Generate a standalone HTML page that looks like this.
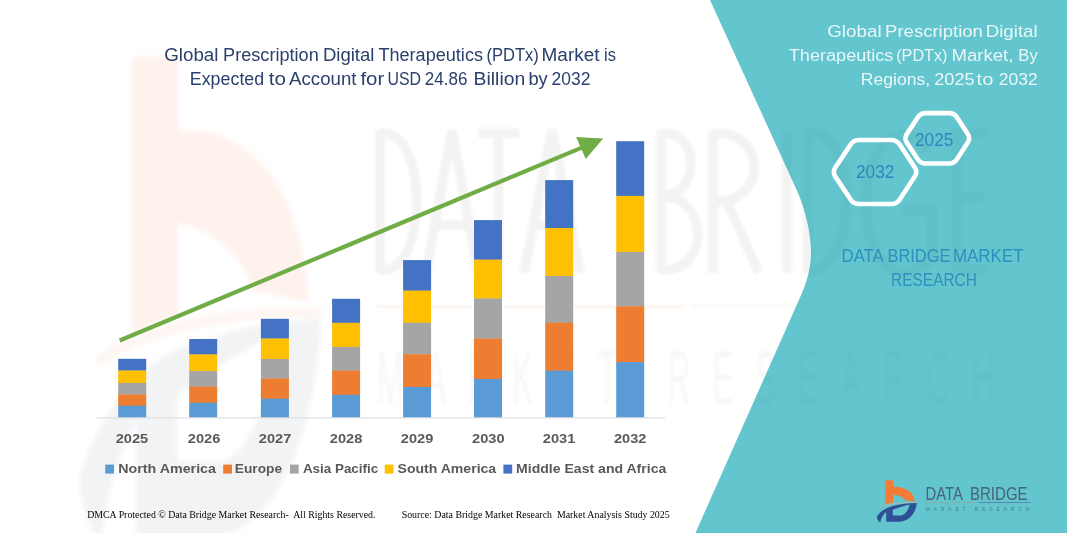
<!DOCTYPE html>
<html>
<head>
<meta charset="utf-8">
<title>Global Prescription Digital Therapeutics (PDTx) Market</title>
<style>
  html, body { margin: 0; padding: 0; background: #ffffff; }
  body { width: 1067px; height: 533px; overflow: hidden; position: relative; font-family: "Liberation Sans", sans-serif; }
  svg { position: absolute; left: 0; top: 0; display: block; opacity: 0.999; }
  text { font-family: "Liberation Sans", sans-serif; }
  .serif { font-family: "Liberation Serif", serif; }
</style>
</head>
<body>
<svg width="1067" height="533" viewBox="0 0 1067 533">
  <defs>
    <filter id="blur2" x="-10%" y="-10%" width="120%" height="120%"><feGaussianBlur stdDeviation="2"/></filter>
    <filter id="blur1" x="-10%" y="-10%" width="120%" height="120%"><feGaussianBlur stdDeviation="1.6"/></filter>
    <clipPath id="tealclip"><path d="M710,0 L798,193 C806,212 811,235 811,252 C811,270 806,285 798,302 L695.4,533 L1067,533 L1067,0 Z"/></clipPath>
  </defs>

  <!-- white background -->
  <rect x="0" y="0" width="1067" height="533" fill="#ffffff"/>

  <!-- faint logo watermark (left) -->
  <g id="wm-logo" filter="url(#blur2)">
    <g transform="translate(-5180.4,-5466.5) scale(6,11.5)">
      <path d="M885.4,480.3 L893.1,480.3 L893.1,486.7 C905,486.3 913.8,491.5 914.8,501.6 L905.5,500.6 C903.9,497.8 899.4,495.3 893.1,494.8 L893.1,502.6 L885.4,504.4 Z" fill="#f47b35" opacity="0.09"/>
      <path d="M879.5,506.8 C889,503.6 903,502.3 916.8,502.6" fill="none" stroke-width="0.9" stroke="#e8a07a" opacity="0.10"/>
      <path fill-rule="evenodd" d="M916.8,503.1 C908.5,503.2 900.4,504.2 892.3,505.9 C885.2,508 879,512.5 876.9,516.6 C876.5,519 878.5,521.5 880.4,522.6 C880.6,518.6 883.2,514.5 886.2,511.7 L886.2,521.8 L900.4,521.8 C909.5,521 916,513 916.8,503.1 Z M892.8,509.7 C900.4,506.9 905,505.4 909.5,504.4 C909.3,508.4 905.5,515 900.4,515.5 L892.8,515.5 Z" fill="#3d4c7c" opacity="0.075"/>
    </g>
  </g>

  <rect x="376" y="305" width="310" height="3" fill="#f0894f" opacity="0.09" filter="url(#blur1)"/>
  <!-- faint DATA BRIDGE watermark (white area) -->
  <g filter="url(#blur1)" opacity="0.048"><g>
      <g fill="none" stroke="#000000" stroke-width="9.5">
    <path d="M380,130 L380,273 M380,133 C429,128 429,275 380,270"/>
    <path d="M426,273 L452.0,130 L478,273 M435,225 L469,225"/>
    <path d="M478,133 L519,133 M498.5,133 L498.5,273"/>
    <path d="M524,273 L552.0,130 L580,273 M533,225 L571,225"/>
    <path d="M661,130 L661,273 M661,133 C701,130 701,196 661,196 C710,196 710,273 661,270"/>
    <path d="M713,130 L713,273 M713,133 C768,130 768,204 713,202 M727,202 L759,273"/>
    <path d="M787,130 L787,273"/>
    <path d="M808,130 L808,273 M808,133 C859,128 859,275 808,270"/>
    <path d="M928,151 C902,115 866,143 866,202 C866,265 899,292 932,258 L932,210 L902,210"/>
    <path d="M957,130 L957,273 M957,133 L987,133 M957,198 L983,198 M957,270 L987,270"/>
      </g>
      <rect x="690" y="304.5" width="320" height="3" fill="#000" opacity="0.7"/>
      <g fill="#000" font-size="75.5" opacity="0.7">
        <text transform="translate(377,404) scale(0.42,1)" x="0" y="0" textLength="1470" lengthAdjust="spacing">MARKET RESEARCH</text>
      </g>
    </g></g>

  <!-- teal panel -->
  <path id="teal" d="M710,0 L798,193 C806,212 811,235 811,252 C811,270 806,285 798,302 L695.4,533 L1067,533 L1067,0 Z" fill="#63c5cd"/>

  <!-- faint watermark over teal -->
  <g clip-path="url(#tealclip)"><g filter="url(#blur2)" opacity="0.028"><g>
      <g fill="none" stroke="#000000" stroke-width="9.5">
    <path d="M380,130 L380,273 M380,133 C429,128 429,275 380,270"/>
    <path d="M426,273 L452.0,130 L478,273 M435,225 L469,225"/>
    <path d="M478,133 L519,133 M498.5,133 L498.5,273"/>
    <path d="M524,273 L552.0,130 L580,273 M533,225 L571,225"/>
    <path d="M661,130 L661,273 M661,133 C701,130 701,196 661,196 C710,196 710,273 661,270"/>
    <path d="M713,130 L713,273 M713,133 C768,130 768,204 713,202 M727,202 L759,273"/>
    <path d="M787,130 L787,273"/>
    <path d="M808,130 L808,273 M808,133 C859,128 859,275 808,270"/>
    <path d="M928,151 C902,115 866,143 866,202 C866,265 899,292 932,258 L932,210 L902,210"/>
    <path d="M957,130 L957,273 M957,133 L987,133 M957,198 L983,198 M957,270 L987,270"/>
      </g>
      <rect x="690" y="304.5" width="320" height="3" fill="#000" opacity="0.7"/>
      <g fill="#000" font-size="75.5" opacity="0.7">
        <text transform="translate(377,404) scale(0.42,1)" x="0" y="0" textLength="1470" lengthAdjust="spacing">MARKET RESEARCH</text>
      </g>
    </g></g></g>

  <!-- x axis line -->
  <rect x="96.2" y="417.4" width="569" height="1" fill="#d9d9d9"/>

  <!-- bars -->
  <g id="bars">
    <rect x="118.2" y="358.8" width="28" height="12.0" fill="#4472c4"/>
    <rect x="118.2" y="370.5" width="28" height="12.7" fill="#ffc000"/>
    <rect x="118.2" y="382.9" width="28" height="11.8" fill="#a5a5a5"/>
    <rect x="118.2" y="394.4" width="28" height="11.6" fill="#ed7d31"/>
    <rect x="118.2" y="405.7" width="28" height="11.6" fill="#5b9bd5"/>
    <rect x="189.2" y="339" width="28" height="15.7" fill="#4472c4"/>
    <rect x="189.2" y="354.4" width="28" height="16.9" fill="#ffc000"/>
    <rect x="189.2" y="371" width="28" height="15.9" fill="#a5a5a5"/>
    <rect x="189.2" y="386.6" width="28" height="16.4" fill="#ed7d31"/>
    <rect x="189.2" y="402.7" width="28" height="14.6" fill="#5b9bd5"/>
    <rect x="260.9" y="318.8" width="28" height="20.0" fill="#4472c4"/>
    <rect x="260.9" y="338.5" width="28" height="20.8" fill="#ffc000"/>
    <rect x="260.9" y="359" width="28" height="19.7" fill="#a5a5a5"/>
    <rect x="260.9" y="378.4" width="28" height="20.6" fill="#ed7d31"/>
    <rect x="260.9" y="398.7" width="28" height="18.6" fill="#5b9bd5"/>
    <rect x="332.1" y="298.8" width="28" height="24.3" fill="#4472c4"/>
    <rect x="332.1" y="322.8" width="28" height="24.4" fill="#ffc000"/>
    <rect x="332.1" y="346.9" width="28" height="24.0" fill="#a5a5a5"/>
    <rect x="332.1" y="370.6" width="28" height="24.5" fill="#ed7d31"/>
    <rect x="332.1" y="394.8" width="28" height="22.5" fill="#5b9bd5"/>
    <rect x="403.1" y="260.1" width="28" height="30.8" fill="#4472c4"/>
    <rect x="403.1" y="290.6" width="28" height="32.4" fill="#ffc000"/>
    <rect x="403.1" y="322.7" width="28" height="31.8" fill="#a5a5a5"/>
    <rect x="403.1" y="354.2" width="28" height="33.0" fill="#ed7d31"/>
    <rect x="403.1" y="386.9" width="28" height="30.4" fill="#5b9bd5"/>
    <rect x="474.0" y="220.1" width="28" height="39.8" fill="#4472c4"/>
    <rect x="474.0" y="259.6" width="28" height="39.2" fill="#ffc000"/>
    <rect x="474.0" y="298.5" width="28" height="40.3" fill="#a5a5a5"/>
    <rect x="474.0" y="338.5" width="28" height="40.8" fill="#ed7d31"/>
    <rect x="474.0" y="379" width="28" height="38.3" fill="#5b9bd5"/>
    <rect x="545.2" y="180.1" width="28" height="48.2" fill="#4472c4"/>
    <rect x="545.2" y="228" width="28" height="48.2" fill="#ffc000"/>
    <rect x="545.2" y="275.9" width="28" height="47.1" fill="#a5a5a5"/>
    <rect x="545.2" y="322.7" width="28" height="48.2" fill="#ed7d31"/>
    <rect x="545.2" y="370.6" width="28" height="46.7" fill="#5b9bd5"/>
    <rect x="616.2" y="141.2" width="28" height="55.0" fill="#4472c4"/>
    <rect x="616.2" y="195.9" width="28" height="56.3" fill="#ffc000"/>
    <rect x="616.2" y="251.9" width="28" height="54.7" fill="#a5a5a5"/>
    <rect x="616.2" y="306.3" width="28" height="56.1" fill="#ed7d31"/>
    <rect x="616.2" y="362.1" width="28" height="55.2" fill="#5b9bd5"/>
  </g>

  <!-- arrow -->
  <g id="arrow">
    <line x1="119.7" y1="340.5" x2="586" y2="145.9" stroke="#70ad47" stroke-width="4.2"/>
    <polygon points="603.1,138.6 576.1,136.9 585.8,159" fill="#70ad47"/>
  </g>

  <!-- title -->
  <g fill="#2b406c" font-size="17.5">
    <text x="164.2" y="60.5" textLength="54.3" lengthAdjust="spacingAndGlyphs">Global</text>
    <text x="223.1" y="60.5" textLength="95.7" lengthAdjust="spacingAndGlyphs">Prescription</text>
    <text x="322.9" y="60.5" textLength="51.6" lengthAdjust="spacingAndGlyphs">Digital</text>
    <text x="378.4" y="60.5" textLength="104.6" lengthAdjust="spacingAndGlyphs">Therapeutics</text>
    <text x="486.4" y="60.5" textLength="52.4" lengthAdjust="spacingAndGlyphs">(PDTx)</text>
    <text x="541.6" y="60.5" textLength="57.9" lengthAdjust="spacingAndGlyphs">Market</text>
    <text x="604.1" y="60.5" textLength="11.9" lengthAdjust="spacingAndGlyphs">is</text>
    <text x="189.8" y="84.8" textLength="74.4" lengthAdjust="spacingAndGlyphs">Expected</text>
    <text x="268.8" y="84.8" textLength="17.2" lengthAdjust="spacingAndGlyphs">to</text>
    <text x="289.1" y="84.8" textLength="67.4" lengthAdjust="spacingAndGlyphs">Account</text>
    <text x="360.4" y="84.8" textLength="23.9" lengthAdjust="spacingAndGlyphs">for</text>
    <text x="387.4" y="84.8" textLength="33.6" lengthAdjust="spacingAndGlyphs">USD</text>
    <text x="424.8" y="84.8" textLength="42.7" lengthAdjust="spacingAndGlyphs">24.86</text>
    <text x="473.6" y="84.8" textLength="51.7" lengthAdjust="spacingAndGlyphs">Billion</text>
    <text x="528.4" y="84.8" textLength="19.4" lengthAdjust="spacingAndGlyphs">by</text>
    <text x="551.6" y="84.8" textLength="38.9" lengthAdjust="spacingAndGlyphs">2032</text>
  </g>

  <!-- axis labels -->
  <g fill="#595959" font-size="13.7" font-weight="bold">
    <text x="115.7" y="442.9" textLength="32.5" lengthAdjust="spacingAndGlyphs">2025</text>
    <text x="187.8" y="442.9" textLength="32.5" lengthAdjust="spacingAndGlyphs">2026</text>
    <text x="258.8" y="442.9" textLength="32.5" lengthAdjust="spacingAndGlyphs">2027</text>
    <text x="329.8" y="442.9" textLength="32.5" lengthAdjust="spacingAndGlyphs">2028</text>
    <text x="400.8" y="442.9" textLength="32.5" lengthAdjust="spacingAndGlyphs">2029</text>
    <text x="472.1" y="442.9" textLength="32.5" lengthAdjust="spacingAndGlyphs">2030</text>
    <text x="542.8" y="442.9" textLength="32.5" lengthAdjust="spacingAndGlyphs">2031</text>
    <text x="614.0" y="442.9" textLength="32.5" lengthAdjust="spacingAndGlyphs">2032</text>
  </g>

  <!-- legend -->
  <g font-size="12.7" font-weight="bold" fill="#595959">
    <rect x="105.2" y="464.6" width="8.8" height="9" fill="#5b9bd5"/>
    <text x="118.2" y="472.6" textLength="97.8" lengthAdjust="spacingAndGlyphs">North America</text>
    <rect x="223.2" y="464.6" width="8.8" height="9" fill="#ed7d31"/>
    <text x="234.8" y="472.6" textLength="47.3" lengthAdjust="spacingAndGlyphs">Europe</text>
    <rect x="289.9" y="464.6" width="8.8" height="9" fill="#a5a5a5"/>
    <text x="302.9" y="472.6" textLength="75.3" lengthAdjust="spacingAndGlyphs">Asia Pacific</text>
    <rect x="384.7" y="464.6" width="8.8" height="9" fill="#ffc000"/>
    <text x="397.5" y="472.6" textLength="98.7" lengthAdjust="spacingAndGlyphs">South America</text>
    <rect x="503.4" y="464.6" width="8.8" height="9" fill="#4472c4"/>
    <text x="516.1" y="472.6" textLength="150.2" lengthAdjust="spacingAndGlyphs">Middle East and Africa</text>
  </g>

  <!-- footer -->
  <g class="serif" font-size="9.8" fill="#000000">
    <text class="serif" x="87.2" y="518.4" textLength="288.3" lengthAdjust="spacingAndGlyphs" xml:space="preserve">DMCA Protected © Data Bridge Market Research-  All Rights Reserved.</text>
    <text class="serif" x="401.7" y="518.4" textLength="268.0" lengthAdjust="spacingAndGlyphs" xml:space="preserve">Source: Data Bridge Market Research  Market Analysis Study 2025</text>
  </g>

  <!-- right panel title -->
  <g fill="#ffffff" fill-opacity="0.86" font-size="17.2">
    <text x="827.2" y="36.7" textLength="54.4" lengthAdjust="spacingAndGlyphs">Global</text>
    <text x="885.1" y="36.7" textLength="97.8" lengthAdjust="spacingAndGlyphs">Prescription</text>
    <text x="985.7" y="36.7" textLength="52.0" lengthAdjust="spacingAndGlyphs">Digital</text>
    <text x="788.8" y="60.7" textLength="104.6" lengthAdjust="spacingAndGlyphs">Therapeutics</text>
    <text x="896.2" y="60.7" textLength="51.3" lengthAdjust="spacingAndGlyphs">(PDTx)</text>
    <text x="951.6" y="60.7" textLength="61.8" lengthAdjust="spacingAndGlyphs">Market,</text>
    <text x="1018.3" y="60.7" textLength="19.4" lengthAdjust="spacingAndGlyphs">By</text>
    <text x="860.8" y="84.7" textLength="69.3" lengthAdjust="spacingAndGlyphs">Regions,</text>
    <text x="934.3" y="84.7" textLength="40.3" lengthAdjust="spacingAndGlyphs">2025</text>
    <text x="976.6" y="84.7" textLength="16.7" lengthAdjust="spacingAndGlyphs">to</text>
    <text x="998.8" y="84.7" textLength="38.9" lengthAdjust="spacingAndGlyphs">2032</text>
  </g>

  <!-- hexagons -->
  <g fill="none" stroke="#ffffff" stroke-width="4.6" stroke-linejoin="round">
    <path d="M835.3,176.6 Q832.3,172.0 835.3,167.4 L850.6,144.6 Q853.6,140.0 859.1,140.0 L891.2,140.0 Q896.7,140.0 899.7,144.6 L914.8,167.4 Q917.8,172.0 914.8,176.6 L899.7,199.4 Q896.7,204.0 891.2,204.0 L859.1,204.0 Q853.6,204.0 850.6,199.4 Z"/>
    <path d="M906.8,142.5 Q904.0,138.3 906.8,134.1 L917.8,117.3 Q920.6,113.1 925.6,113.1 L949.2,113.1 Q954.2,113.1 956.9,117.3 L967.8,134.1 Q970.5,138.3 967.8,142.5 L956.9,159.3 Q954.2,163.5 949.2,163.5 L925.6,163.5 Q920.6,163.5 917.8,159.3 Z"/>
  </g>
  <g fill="#2f86bd" font-size="18.5">
    <text x="856" y="178.1" textLength="38.4" lengthAdjust="spacingAndGlyphs">2032</text>
    <text x="915" y="146.1" textLength="38.4" lengthAdjust="spacingAndGlyphs">2025</text>
  </g>

  <!-- DBMR text -->
  <g fill="#2f8fbf" font-size="17.9">
    <text x="841.5" y="262.4" textLength="42.3" lengthAdjust="spacingAndGlyphs">DATA</text>
    <text x="887.4" y="262.4" textLength="63.2" lengthAdjust="spacingAndGlyphs">BRIDGE</text>
    <text x="953.0" y="262.4" textLength="70.5" lengthAdjust="spacingAndGlyphs">MARKET</text>
    <text x="891.1" y="286.1" textLength="85.8" lengthAdjust="spacingAndGlyphs">RESEARCH</text>
  </g>

  <!-- logo bottom right -->
  <g id="logo">
    <path d="M885.4,480.3 L893.1,480.3 L893.1,486.7 C905,486.3 913.8,491.5 914.8,501.6 L905.5,500.6 C903.9,497.8 899.4,495.3 893.1,494.8 L893.1,502.6 L885.4,504.4 Z" fill="#f47b35"/>
    <path d="M879.5,506.8 C889,503.6 903,502.3 916.8,502.6" fill="none" stroke-width="0.9" stroke="#c7b3a6" opacity="0.8"/>
    <path fill-rule="evenodd" d="M916.8,503.1 C908.5,503.2 900.4,504.2 892.3,505.9 C885.2,508 879,512.5 876.9,516.6 C876.5,519 878.5,521.5 880.4,522.6 C880.6,518.6 883.2,514.5 886.2,511.7 L886.2,521.8 L900.4,521.8 C909.5,521 916,513 916.8,503.1 Z M892.8,509.7 C900.4,506.9 905,505.4 909.5,504.4 C909.3,508.4 905.5,515 900.4,515.5 L892.8,515.5 Z" fill="#2f4f97"/>
    <g font-size="17.5" fill="#44657a">
      <text x="925.6" y="500.1" textLength="37.2" lengthAdjust="spacingAndGlyphs">DATA</text>
      <text x="970.0" y="500.1" textLength="57.6" lengthAdjust="spacingAndGlyphs">BRIDGE</text>
    </g>
    <rect x="926" y="502.1" width="49" height="0.8" fill="#a59c94" opacity="0.7"/>
    <rect x="978.4" y="502" width="52.6" height="1" fill="#5b87b5"/>
    <text x="925.5" y="511.2" font-size="5.2" fill="#4a8090" textLength="104" lengthAdjust="spacing">MARKET RESEARCH</text>
  </g>
</svg>
</body>
</html>
